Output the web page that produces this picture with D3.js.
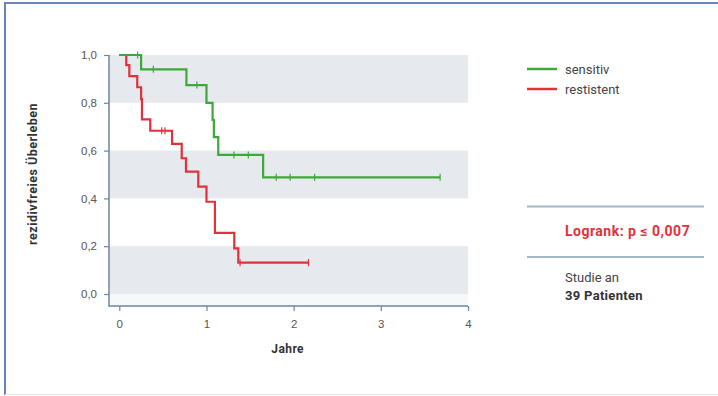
<!DOCTYPE html>
<html>
<head>
<meta charset="utf-8">
<script src="https://cdn.jsdelivr.net/npm/d3@7"></script>
<style>
  body { margin: 0; background: #fff; }
  svg { display: block; font-family: Roboto, 'DejaVu Sans', sans-serif; }
</style>
</head>
<body>
<svg id="chart"></svg>
<script>
// Kaplan-Meier Schritte
let sensTimes = [0, 0.25, 0.77, 1.0, 1.07, 1.085, 1.135, 1.65, 3.68]
let sensSurv = [1.0, 0.94, 0.874, 0.80, 0.728, 0.656, 0.582, 0.488, 0.488]
let sensCensor = [0.21, 0.39, 0.89, 1.315, 1.48, 1.80, 1.96, 2.24, 3.68]

let resTimes = [0, 0.08, 0.115, 0.206, 0.25, 0.26, 0.355, 0.605, 0.716, 0.765, 0.906, 1.0, 1.097, 1.319, 1.365, 2.17]
let resSurv = [1.0, 0.958, 0.912, 0.865, 0.815, 0.731, 0.683, 0.628, 0.568, 0.512, 0.449, 0.386, 0.256, 0.191, 0.131, 0.131]
let resCensor = [0.486, 0.524, 1.385, 2.17]

let xTicks = [0, 1, 2, 3, 4]
let yTicks = [0, 0.2, 0.4, 0.6, 0.8, 1.0]
let bands = [[0.8, 1.0], [0.4, 0.6], [0.0, 0.2]]

let width = 718
let height = 396
let axisColor = '#6f86a0'
let green = '#3fa83a'
let red = '#e2313b'

let svg = d3.select('#chart').attr('width', width).attr('height', height)

// rahmen
svg.append('line').attr('x1', 5).attr('x2', width).attr('y1', 3).attr('y2', 3)
    .attr('stroke', '#6a86b8').attr('stroke-width', 2)
svg.append('line').attr('x1', 5).attr('x2', 5).attr('y1', 2).attr('y2', 395)
    .attr('stroke', '#6a86b8').attr('stroke-width', 2)
svg.append('line').attr('x1', 5).attr('x2', width).attr('y1', 394.5).attr('y2', 394.5)
    .attr('stroke', '#dfe3ea').attr('stroke-width', 1)

let xScale = d3.scaleLinear().domain([0, 4]).range([119.3, 468])
let yScale = d3.scaleLinear().domain([0, 1]).range([294, 55])

let plotLeft = 109
let plotBottom = 306

svg.append('rect').attr('x', plotLeft).attr('y', yScale(0))
    .attr('width', 468 - plotLeft).attr('height', plotBottom - yScale(0))
    .attr('fill', '#f6f8fa')

svg.selectAll('rect.band')
    .data(bands)
    .enter()
    .append('rect')
    .attr('class', 'band')
    .attr('x', plotLeft)
    .attr('y', d => yScale(d[1]))
    .attr('width', 468 - plotLeft)
    .attr('height', d => yScale(d[0]) - yScale(d[1]))
    .attr('fill', '#e6e9ee')

let fmt = d => d.toFixed(1).replace('.', ',')

let yAxis = svg.append('g')
    .attr('transform', 'translate(' + plotLeft + ',0)')
    .call(d3.axisLeft(yScale).tickValues(yTicks).tickFormat(fmt).tickSize(5).tickPadding(7))
yAxis.select('.domain').remove()

let xAxis = svg.append('g')
    .attr('transform', 'translate(0,' + plotBottom + ')')
    .call(d3.axisBottom(xScale).tickValues(xTicks).tickFormat(d3.format('d')).tickSize(5).tickPadding(9))
xAxis.select('.domain').remove()

svg.selectAll('.tick line').attr('stroke', axisColor).attr('stroke-width', 1.2)
svg.selectAll('.tick text').attr('fill', '#555').style('font-size', '11.5px')

svg.append('path')
    .attr('d', 'M' + plotLeft + ',55V' + plotBottom + 'H468')
    .attr('fill', 'none').attr('stroke', axisColor).attr('stroke-width', 1.5)

svg.append('text')
    .attr('transform', 'translate(37,174) rotate(-90)')
    .attr('text-anchor', 'middle')
    .style('font-size', '12.5px').style('font-weight', 700)
    .style('letter-spacing', '0.5px')
    .attr('fill', '#333')
    .text('rezidivfreies Überleben')

svg.append('text')
    .attr('x', xScale(2) - 6).attr('y', 353)
    .attr('text-anchor', 'middle')
    .style('font-size', '12px').style('font-weight', 700)
    .style('letter-spacing', '0.4px')
    .attr('fill', '#333')
    .text('Jahre')

let stepLine = d3.line()
    .x(d => xScale(d[0]))
    .y(d => yScale(d[1]))
    .curve(d3.curveStepAfter)

let survAt = (times, surv, t) => {
    let i = d3.bisectRight(times, t) - 1
    return surv[Math.max(0, i)]
}

let drawCurve = (times, surv, censor, color) => {
    svg.append('path')
        .datum(d3.zip(times, surv))
        .attr('d', stepLine)
        .attr('fill', 'none')
        .attr('stroke', color)
        .attr('stroke-width', 2.2)
    svg.append('g').selectAll('line')
        .data(censor)
        .enter()
        .append('line')
        .attr('x1', d => xScale(d)).attr('x2', d => xScale(d))
        .attr('y1', d => yScale(survAt(times, surv, d)) - 3.5)
        .attr('y2', d => yScale(survAt(times, surv, d)) + 3.5)
        .attr('stroke', color)
        .attr('stroke-width', 1.2)
}

drawCurve(resTimes, resSurv, resCensor, red)
drawCurve(sensTimes, sensSurv, sensCensor, green)

// legende
let legend = [['sensitiv', green, 69], ['restistent', red, 89]]
legend.forEach(l => {
    svg.append('line').attr('x1', 527).attr('x2', 557).attr('y1', l[2]).attr('y2', l[2])
        .attr('stroke', l[1]).attr('stroke-width', 2.5)
    svg.append('text').attr('x', 565).attr('y', l[2] + 4.5)
        .style('font-size', '13px').attr('fill', '#444').text(l[0])
})

svg.append('line').attr('x1', 527).attr('x2', 704).attr('y1', 206.5).attr('y2', 206.5)
    .attr('stroke', '#a3b7c8').attr('stroke-width', 2)
svg.append('line').attr('x1', 527).attr('x2', 704).attr('y1', 257).attr('y2', 257)
    .attr('stroke', '#a3b7c8').attr('stroke-width', 2)

svg.append('text').attr('x', 565).attr('y', 236)
    .style('font-size', '14px').style('font-weight', 700)
    .style('letter-spacing', '0.5px')
    .attr('fill', red).text('Logrank: p ≤ 0,007')
svg.append('text').attr('x', 565).attr('y', 281.5)
    .style('font-size', '13px').attr('fill', '#444').text('Studie an')
svg.append('text').attr('x', 565).attr('y', 300)
    .style('font-size', '13px').style('font-weight', 700)
    .style('letter-spacing', '0.3px')
    .attr('fill', '#333').text('39 Patienten')
</script>
</body>
</html>
